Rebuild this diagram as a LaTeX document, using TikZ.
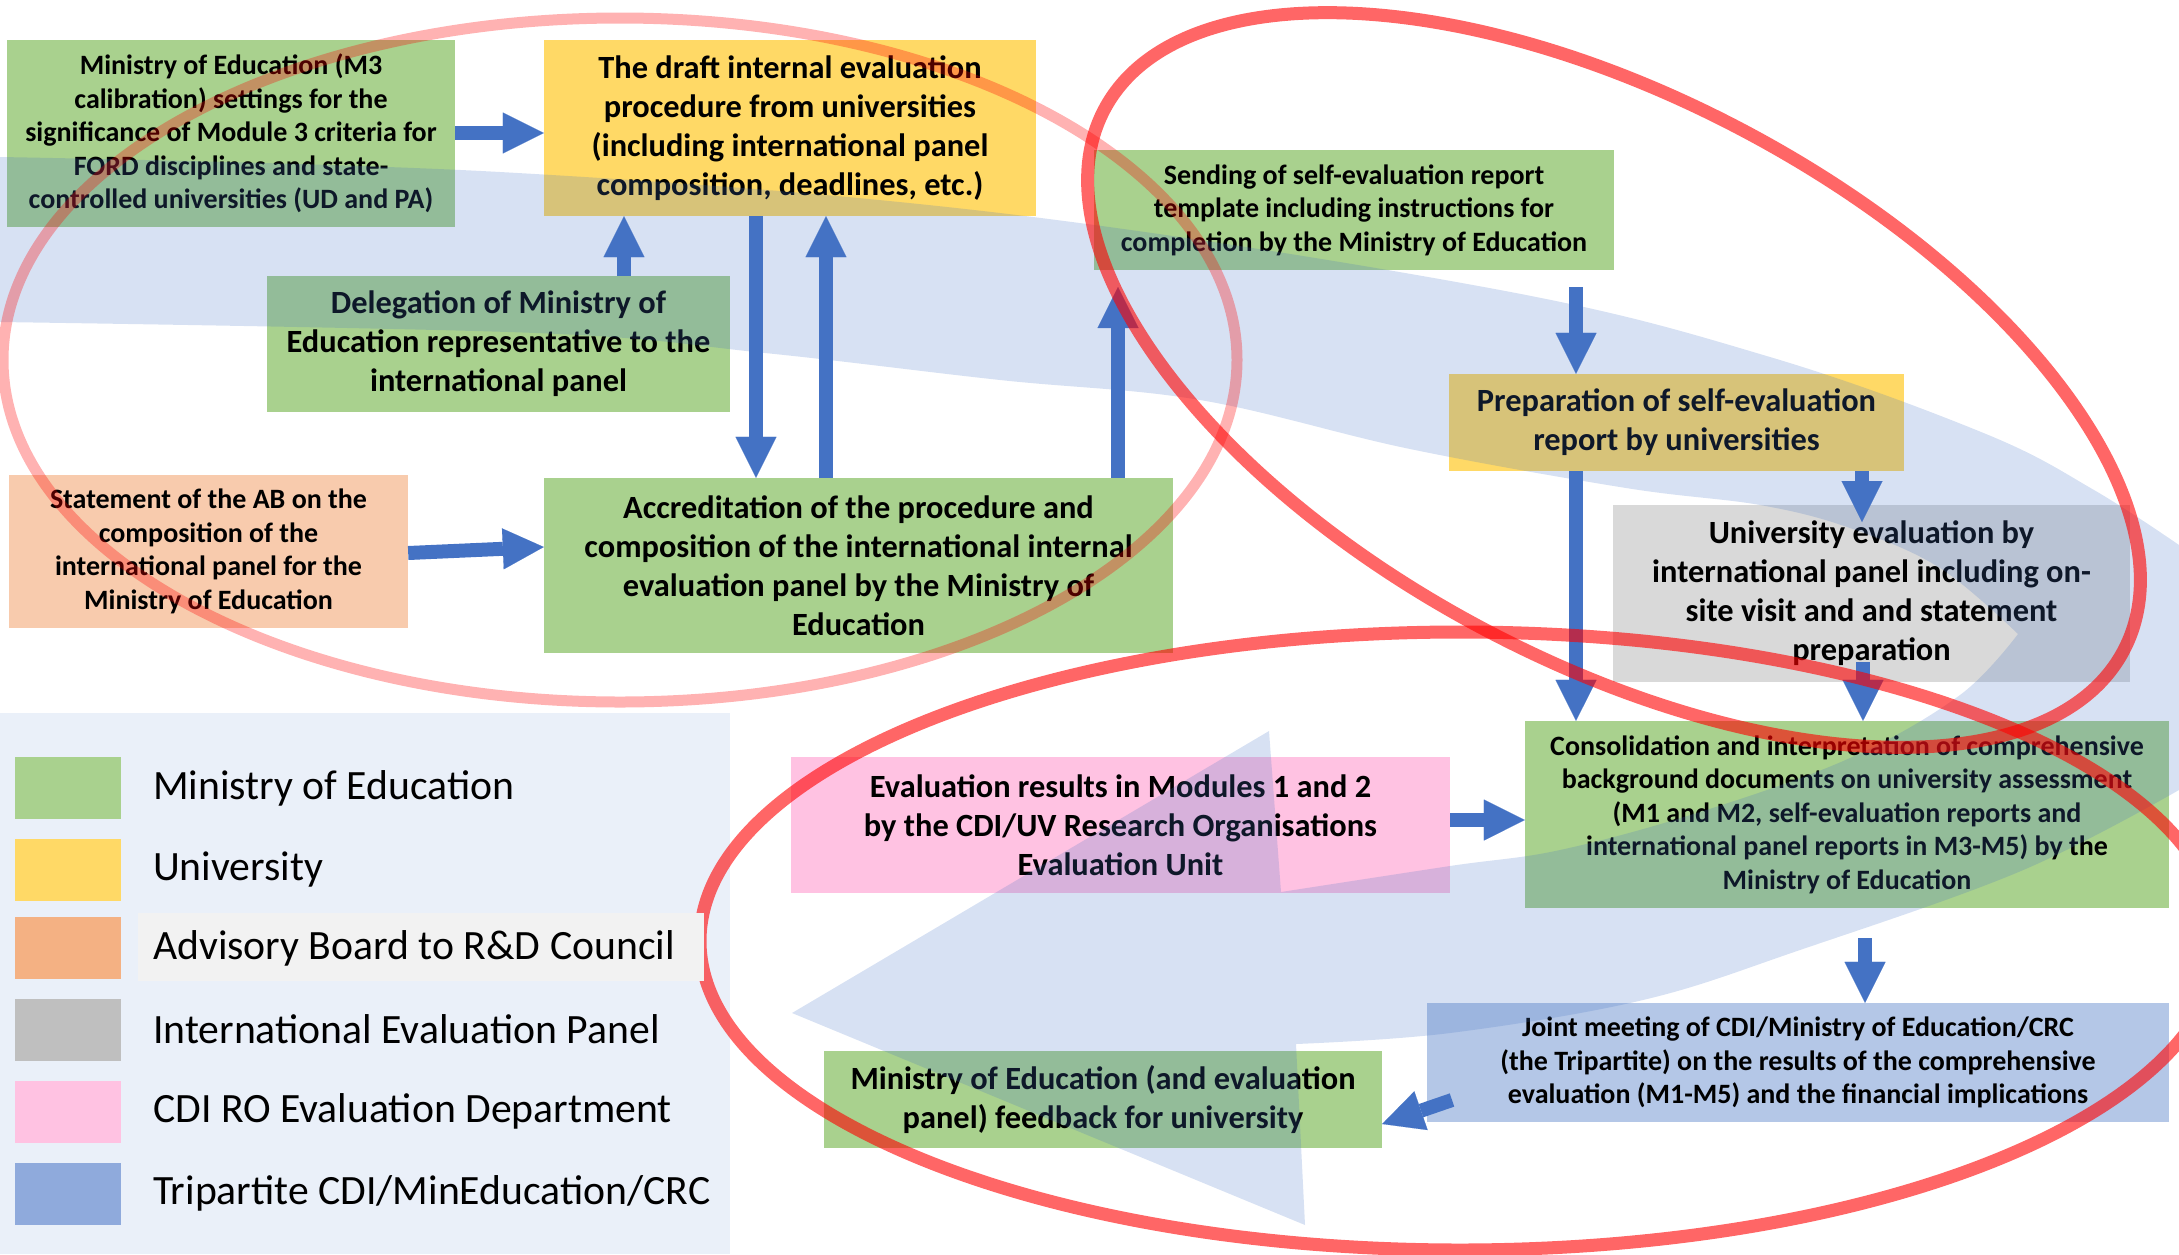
\documentclass[tikz,border=0pt]{standalone}
\usepackage{fontspec}
\setmainfont{Carlito}
\usetikzlibrary{arrows.meta}
\definecolor{cgreen}{HTML}{A9D18E}
\definecolor{cyellow}{HTML}{FFD966}
\definecolor{cpeach}{HTML}{F8CBAD}
\definecolor{cgrey}{HTML}{D9D9D9}
\definecolor{cpink}{HTML}{FFC2E2}
\definecolor{cbluebox}{HTML}{B4C7E7}
\definecolor{cblue}{HTML}{4472C4}
\definecolor{lorange}{HTML}{F4B183}
\definecolor{lgrey}{HTML}{BFBFBF}
\definecolor{lblue}{HTML}{8FAADC}
\definecolor{ladv}{HTML}{F2F2F2}
\newcommand\fsL{\fontsize{32.4}{39}\selectfont}
\newcommand\fsS{\fontsize{28}{33.5}\selectfont}
\newcommand\fsLeg{\fontsize{41.7}{50}\selectfont}
\begin{document}
\begin{tikzpicture}[x=1pt,y=-1pt,
  box/.style={inner sep=0pt, align=center, text=black},
  bigtxt/.style={font=\bfseries\fsL},
  smalltxt/.style={font=\bfseries\fsS},
  barrow/.style={draw=cblue, line width=14pt, -{Triangle[length=41pt,width=41pt,line width=0.1pt]}},
  swatch/.style={inner sep=0pt, minimum width=106pt, minimum height=62pt},
  legtext/.style={anchor=west, inner sep=0pt, font=\fsLeg},
  swoosh/.style={fill=cblue, fill opacity=0.21},
  redlight/.style={draw=red, draw opacity=0.3, line width=11pt},
  redbold/.style={draw=red, draw opacity=0.6, line width=13pt}]
\useasboundingbox (0,0) rectangle (2179,1254);
\begin{scope}
\clip (0,0) rectangle (2179,1254);
% legend background
\fill[cblue, fill opacity=0.11] (0,713) rectangle (730,1254);
% boxes
\node[box, smalltxt, fill=cgreen, minimum width=448pt, minimum height=187pt] (b1) at (231,133.5)
 {Ministry of Education (M3\\calibration) settings for the\\significance of Module 3 criteria for\\FORD disciplines and state-\\controlled universities (UD and PA)};
\node[box, bigtxt, fill=cyellow, minimum width=492pt, minimum height=176pt] (b2) at (790,128)
 {The draft internal evaluation\\procedure from universities\\(including international panel\\composition, deadlines, etc.)};
\node[box, bigtxt, fill=cgreen, minimum width=463pt, minimum height=136pt] (b3) at (498.5,344)
 {Delegation of Ministry of\\Education representative to the\\international panel};
\node[box, smalltxt, fill=cpeach, minimum width=399pt, minimum height=153pt] (b4) at (208.5,551.5)
 {Statement of the AB on the\\composition of the\\international panel for the\\Ministry of Education};
\node[box, bigtxt, fill=cgreen, minimum width=629pt, minimum height=175pt] (b5) at (858.5,565.5)
 {Accreditation of the procedure and\\composition of the international internal\\evaluation panel by the Ministry of\\Education};
\node[box, smalltxt, fill=cgreen, minimum width=520pt, minimum height=120pt] (b6) at (1354,210)
 {Sending of self-evaluation report\\template including instructions for\\completion by the Ministry of Education};
\node[box, bigtxt, fill=cyellow, minimum width=455pt, minimum height=97pt] (b7) at (1676.5,422.5)
 {Preparation of self-evaluation\\report by universities};
\node[box, bigtxt, fill=cgrey, minimum width=517pt, minimum height=177pt] (b8) at (1871.5,593.5)
 {University evaluation by\\international panel including on-\\site visit and and statement\\preparation};
\node[box, smalltxt, fill=cgreen, minimum width=644pt, minimum height=187pt] (b9) at (1847,814.5)
 {Consolidation and interpretation of comprehensive\\background documents on university assessment\\(M1 and M2, self-evaluation reports and\\international panel reports in M3-M5) by the\\Ministry of Education};
\node[box, bigtxt, fill=cpink, minimum width=659pt, minimum height=136pt] (b10) at (1120.5,825)
 {Evaluation results in Modules 1 and 2\\by the CDI/UV Research Organisations\\Evaluation Unit};
\node[box, smalltxt, fill=cbluebox, minimum width=742pt, minimum height=119pt] (b11) at (1798,1062.5)
 {Joint meeting of CDI/Ministry of Education/CRC\\(the Tripartite) on the results of the comprehensive\\evaluation (M1-M5) and the financial implications};
\node[box, bigtxt, fill=cgreen, minimum width=558pt, minimum height=97pt] (b12) at (1103,1099.5)
 {Ministry of Education (and evaluation\\panel) feedback for university};
% free ends
\coordinate (a6end) at (1118,287);
\coordinate (a7start) at (1576,287);
\coordinate (a9end) at (1862,522);
\coordinate (a10start) at (1863,662);
\coordinate (a12start) at (1865,938);
\coordinate (a13start) at (1452,1100);
% arrows
\draw[barrow] (b1.east |- 0,133) -- (b2.west |- 0,133);
\draw[barrow] (624,0 |- b3.north) -- (624,0 |- b2.south);
\draw[barrow] (756,0 |- b2.south) -- (756,0 |- b5.north);
\draw[barrow] (826,0 |- b5.north) -- (826,0 |- b2.south);
\draw[barrow] (b4.east |- 0,553) -- (b5.west |- 0,547);
\draw[barrow] (1118,0 |- b5.north) -- (a6end);
\draw[barrow] (a7start) -- (1576,0 |- b7.north);
\draw[barrow] (1576,0 |- b7.south) -- (1576,0 |- b9.north);
\draw[barrow] (1862,0 |- b7.south) -- (a9end);
\draw[barrow] (a10start) -- (1863,0 |- b9.north);
\draw[barrow] (b10.east |- 0,820) -- (b9.west |- 0,820);
\draw[barrow] (a12start) -- (1865,0 |- b11.north);
\draw[barrow] (a13start) -- (b12.east |- 0,1124);
% big translucent circular arrow
\fill[swoosh]
 plot[smooth, tension=0.6] coordinates {(0,157) (500,172) (1000,213) (1500,290) (1770,357) (1986,434) (2094,490) (2179,545)}
 -- (2250,660) --
 plot[smooth, tension=0.6] coordinates {(2179,790) (2021,871) (1800,950) (1643,1000) (1450,1033) (1296,1044)}
 -- (1305,1225) -- (792,1013) -- (1269,731) --
 plot[smooth, tension=0.6] coordinates {(1281,892) (1450,866) (1560,850) (1700,812) (1850,758) (1960,695) (2018,634)}
 -- plot[smooth, tension=0.6] coordinates {(2018,634) (1940,568) (1850,528) (1760,505) (1626,488) (1410,449) (1200,400) (1000,380) (765,353) (536,333) (0,322)}
 -- cycle;
% red ellipses
\draw[redlight] (620,360) ellipse [x radius=617, y radius=342];
\draw[redbold, rotate around={-28:(1614,380)}] (1614,380) ellipse [x radius=577, y radius=281];
\draw[redbold] (1460,941) ellipse [x radius=760, y radius=309];
\end{scope}
% legend
\node[swatch, fill=cgreen] (s1) at (68,788) {};
\node[swatch, fill=cyellow] (s2) at (68,869.5) {};
\node[swatch, fill=lorange] (s3) at (68,948) {};
\node[swatch, fill=lgrey] (s4) at (68,1029.5) {};
\node[swatch, fill=cpink] (s5) at (68,1111.5) {};
\node[swatch, fill=lblue] (s6) at (68,1193.5) {};
\node[inner sep=0pt, fill=ladv, minimum width=566pt, minimum height=68pt] (advbg) at (421,947) {};
\node[legtext] (l1) at (153,788) {Ministry of Education};
\node[legtext] (l2) at (153,869.5) {University};
\node[legtext] (l3) at (153,948) {Advisory Board to R\&D Council};
\node[legtext] (l4) at (153,1029.5) {International Evaluation Panel};
\node[legtext] (l5) at (153,1111.5) {CDI RO Evaluation Department};
\node[legtext] (l6) at (153,1193.5) {Tripartite CDI/MinEducation/CRC};
\end{tikzpicture}
\end{document}
